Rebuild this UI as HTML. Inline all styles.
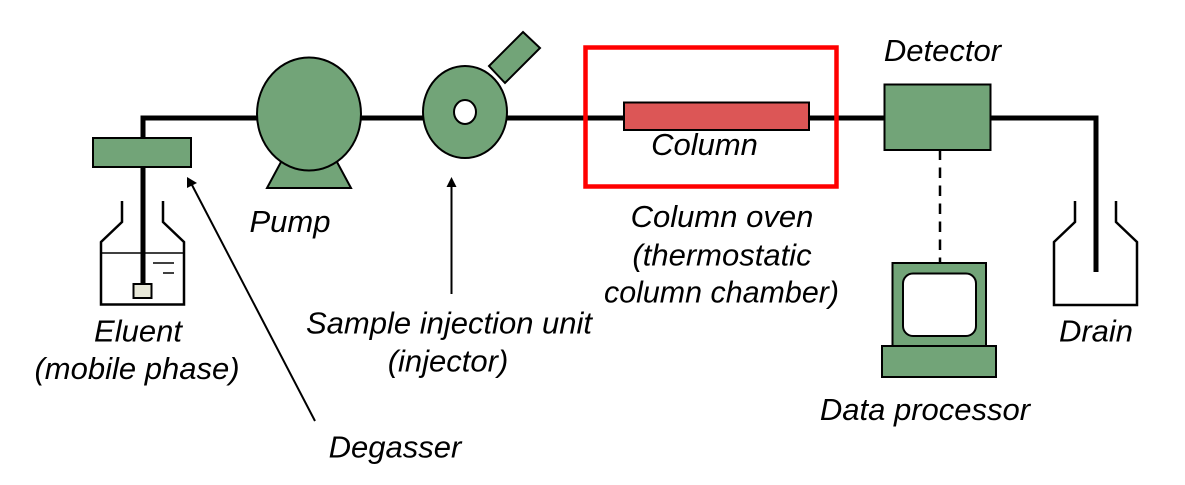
<!DOCTYPE html>
<html><head><meta charset="utf-8"><style>
html,body{margin:0;padding:0;background:#fff}
svg{display:block}
text{font-family:"Liberation Sans",Arial,sans-serif;font-style:italic;font-size:31px;fill:#000;text-anchor:middle}
</style></head><body>
<svg width="1185" height="485" viewBox="0 0 1185 485" xmlns="http://www.w3.org/2000/svg">
<rect width="1185" height="485" fill="#fff"/>
<g fill="none" stroke="#000" stroke-width="5">
<path d="M143 284V118H1096V272" stroke-linejoin="miter"/>
</g>
<g fill="none" stroke="#000" stroke-width="2.5">
<path d="M122 201V222L101 242V304.500H184V242L163 222V201"/>
<path d="M1075 201V222L1054 242V305H1137V242L1116 222V201"/>
</g>
<g fill="none" stroke="#000" stroke-width="1.500">
<path d="M102 253H183M153 263H174M163 273H174"/>
</g>
<rect x="133.500" y="284" width="18" height="14" fill="#e8e8d8" stroke="#000" stroke-width="2"/>
<g fill="#72a478" stroke="#000" stroke-width="2">
<rect x="93" y="138" width="98" height="29"/>
<path d="M281 162L267 188H351L337 162Z"/>
<ellipse cx="309" cy="114" rx="52" ry="56.500"/>
<ellipse cx="465" cy="112" rx="42" ry="46"/>
<path d="M523 32L540 48L505 83L489 66Z"/>
<rect x="884.500" y="84.500" width="106" height="65.500"/>
<rect x="892.500" y="263" width="93.500" height="83"/>
<rect x="882" y="346" width="114" height="31"/>
</g>
<ellipse cx="465" cy="112" rx="11" ry="12" fill="#fff" stroke="#000" stroke-width="2"/>
<rect x="903" y="273.500" width="73" height="62.500" rx="10" fill="#fff" stroke="#000" stroke-width="2"/>
<rect x="624" y="102.500" width="185" height="27.500" fill="#dc5656" stroke="#000" stroke-width="2"/>
<rect x="585.500" y="47.500" width="251" height="139" fill="none" stroke="#f00" stroke-width="4.500"/>
<path d="M940 149.500V263" stroke="#000" stroke-width="2.500" stroke-dasharray="10.500 7.500" fill="none"/>
<path d="M451.500 186V294M315 421L192 185" stroke="#000" stroke-width="2" fill="none"/>
<path d="M451.500 177L446.500 187H456.500Z" fill="#000"/>
<path d="M187 177L187 188L197 183Z" fill="#000"/>
<text x="704.500" y="155">Column</text>
<text x="942.500" y="61">Detector</text>
<text x="290" y="232">Pump</text>
<text x="722" y="227">Column oven</text>
<text x="722" y="265.500">(thermostatic</text>
<text x="721.500" y="302.500" textLength="235" lengthAdjust="spacingAndGlyphs">column chamber)</text>
<text x="138" y="341.500">Eluent</text>
<text x="137" y="379">(mobile phase)</text>
<text x="449" y="333.500">Sample injection unit</text>
<text x="448" y="371.500">(injector)</text>
<text x="1096" y="341.500">Drain</text>
<text x="925" y="420">Data processor</text>
<text x="395" y="457.500">Degasser</text>
</svg>
</body></html>
